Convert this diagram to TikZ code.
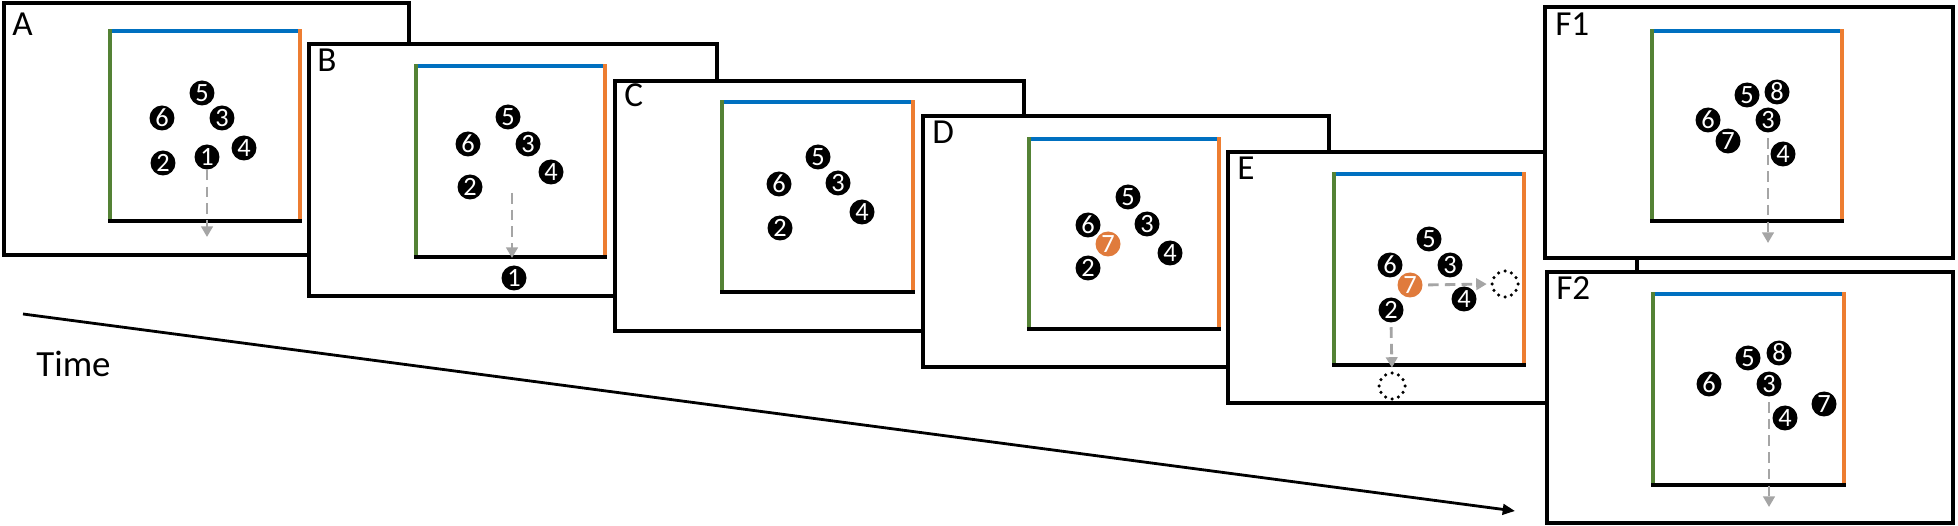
\documentclass[tikz,border=0pt]{standalone}
\usepackage{fontspec}
\setmainfont{Carlito}
\usetikzlibrary{arrows.meta}
\definecolor{sqblue}{HTML}{0070C0}
\definecolor{sqgreen}{HTML}{548235}
\definecolor{sqorange}{HTML}{ED7D31}
\definecolor{arrgray}{HTML}{A5A5A5}
\definecolor{ballorange}{HTML}{E07B3C}
\begin{document}
\begin{tikzpicture}[x=0.02cm,y=-0.02cm,
  frame/.style={draw=black,fill=white,line width=2.2pt},
  sqedge/.style={line width=2pt,line cap=rect},
  ball/.style={circle,fill=black,text=white,minimum size=0.5cm,inner sep=0pt,font=\fontsize{15}{15}\selectfont},
  newball/.style={ball,fill=ballorange},
  flabel/.style={anchor=base west,inner sep=0pt,font=\fontsize{20}{22}\selectfont},
  move/.style={draw=arrgray,line width=1.6pt,dash pattern=on 6pt off 3.5pt,-{Triangle[length=6pt,width=6.5pt]}},
  ghost/.style={circle,draw=black,line width=2pt,dash pattern=on 0pt off 3.85pt,line cap=round,minimum size=0.52cm,inner sep=0pt},
]
\useasboundingbox (0,0) rectangle (1958,526);

% Time axis
\coordinate (t0) at (23,314);
\coordinate (t1) at (1515,511);
\draw[line width=1.6pt,-{Triangle[length=7pt,width=6pt]}] (t0) -- (t1);
\node[anchor=base west,inner sep=0pt,font=\fontsize{21}{24}\selectfont] (time) at (36,377) {Time};

% ---------- A ----------
\draw[frame] (4,3) rectangle (409,255);
\node[flabel] (la) at (12,36) {A};
\draw[sqedge,sqblue] (110,31) -- (300,31);
\draw[sqedge,sqgreen] (110,31) -- (110,221);
\draw[sqedge,sqorange] (300,31) -- (300,221);
\draw[sqedge,black] (110,221) -- (300,221);
\node[ball] (a5) at (202,93) {5};
\node[ball] (a6) at (162,118) {6};
\node[ball] (a3) at (222,118) {3};
\node[ball] (a4) at (244,148) {4};
\node[ball] (a2) at (163,163) {2};
\node[ball] (a1) at (207,157) {1};
\coordinate (at) at (207,237);
\draw[move] (a1.south) -- (at);

% ---------- B ----------
\draw[frame] (309,44) rectangle (717,296);
\node[flabel] (lb) at (317,72) {B};
\draw[sqedge,sqblue] (416,66) -- (605,66);
\draw[sqedge,sqgreen] (416,66) -- (416,257);
\draw[sqedge,sqorange] (605,66) -- (605,257);
\draw[sqedge,black] (416,257) -- (605,257);
\node[ball] (b5) at (508,117) {5};
\node[ball] (b6) at (468,144) {6};
\node[ball] (b3) at (528,144) {3};
\node[ball] (b4) at (551,172) {4};
\node[ball] (b2) at (470,187) {2};
\node[ball] (b1) at (514,278) {1};
\coordinate (bs) at (512,193);
\coordinate (bt) at (512,258);
\draw[move] (bs) -- (bt);

% ---------- C ----------
\draw[frame] (615,81) rectangle (1024,331);
\node[flabel] (lc) at (624,107) {C};
\draw[sqedge,sqblue] (722,102) -- (913,102);
\draw[sqedge,sqgreen] (722,102) -- (722,292);
\draw[sqedge,sqorange] (913,102) -- (913,292);
\draw[sqedge,black] (722,292) -- (913,292);
\node[ball] (c5) at (818,157) {5};
\node[ball] (c6) at (779,184) {6};
\node[ball] (c3) at (838,183) {3};
\node[ball] (c4) at (862,212) {4};
\node[ball] (c2) at (780,228) {2};

% ---------- D ----------
\draw[frame] (923,116) rectangle (1329,367);
\node[flabel] (ld) at (932,144) {D};
\draw[sqedge,sqblue] (1029,139) -- (1219,139);
\draw[sqedge,sqgreen] (1029,139) -- (1029,329);
\draw[sqedge,sqorange] (1219,139) -- (1219,329);
\draw[sqedge,black] (1029,329) -- (1219,329);
\node[ball] (d5) at (1128,197) {5};
\node[ball] (d6) at (1088,225) {6};
\node[ball] (d3) at (1147,224) {3};
\node[ball] (d4) at (1170,253) {4};
\node[ball] (d2) at (1088,268) {2};
\node[newball] (d7) at (1108,244) {7};

% ---------- E ----------
\draw[frame] (1228,152) rectangle (1637,403);
\node[flabel] (le) at (1237,180) {E};
\draw[sqedge,sqblue] (1334,174) -- (1524,174);
\draw[sqedge,sqgreen] (1334,174) -- (1334,365);
\draw[sqedge,sqorange] (1524,174) -- (1524,365);
\draw[sqedge,black] (1334,365) -- (1524,365);
\node[ball] (e5) at (1429,239) {5};
\node[ball] (e6) at (1390,265) {6};
\node[ball] (e3) at (1450,265) {3};
\node[ball] (e4) at (1464,299) {4};
\node[ball] (e2) at (1391,310) {2};
\node[newball] (e7) at (1410,285) {7};
\node[ghost] (g1) at (1505,284) {};
\node[ghost] (g2) at (1392,386) {};
\draw[move,shorten <=3pt,shorten >=2pt] (e7.east) -- (g1.west);
\draw[move,shorten <=2.5pt,shorten >=2pt] (e2.south) -- (g2.north);

% ---------- F1 ----------
\draw[frame] (1545,7) rectangle (1953,258);
\node[flabel] (lf1) at (1555,36) {F1};
\draw[sqedge,sqblue] (1652,31) -- (1842,31);
\draw[sqedge,sqgreen] (1652,31) -- (1652,221);
\draw[sqedge,sqorange] (1842,31) -- (1842,221);
\draw[sqedge,black] (1652,221) -- (1842,221);
\node[ball] (f5) at (1747,95) {5};
\node[ball] (f8) at (1777,92) {8};
\node[ball] (f6) at (1708,120) {6};
\node[ball] (f3) at (1768,120) {3};
\node[ball] (f7) at (1728,141) {7};
\node[ball] (f4) at (1783,154) {4};
\coordinate (ft) at (1768,243);
\draw[move,shorten <=3pt] (f3.south) -- (ft);

% ---------- F2 ----------
\draw[frame] (1547,272) rectangle (1953,523);
\node[flabel] (lf2) at (1556,300) {F2};
\draw[sqedge,sqblue] (1653,294) -- (1844,294);
\draw[sqedge,sqgreen] (1653,294) -- (1653,485);
\draw[sqedge,sqorange] (1844,294) -- (1844,485);
\draw[sqedge,black] (1653,485) -- (1844,485);
\node[ball] (h5) at (1748,358) {5};
\node[ball] (h8) at (1779,353) {8};
\node[ball] (h6) at (1709,384) {6};
\node[ball] (h3) at (1769,384) {3};
\node[ball] (h7) at (1824,404) {7};
\node[ball] (h4) at (1785,418) {4};
\coordinate (ht) at (1769,507);
\draw[move,shorten <=3pt] (h3.south) -- (ht);
\end{tikzpicture}
\end{document}
